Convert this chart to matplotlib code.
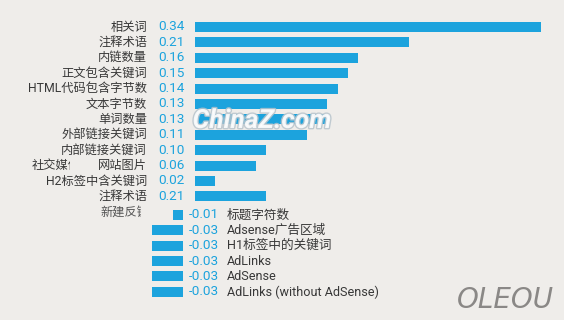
import numpy as np
import matplotlib
matplotlib.use("Agg")
import matplotlib.pyplot as plt
from matplotlib.patches import Rectangle
import matplotlib.patheffects as pe

plt.rcParams['font.family'] = ['Roboto', 'Noto Sans CJK SC', 'DejaVu Sans']

# 正相关
pos_labels = ['相关词', '注释术语', '内链数量', '正文包含关键词', 'HTML代码包含字节数',
              '文本字节数', '单词数量', '外部链接关键词', '内部链接关键词', '网站图片',
              'H2标签中含关键词', '注释术语']
pos_text = ['0.34', '0.21', '0.16', '0.15', '0.14', '0.13', '0.13', '0.11',
            '0.10', '0.06', '0.02', '0.21']
pos_bars = [0.34, 0.21, 0.16, 0.15, 0.14, 0.13, 0.13, 0.11, 0.07, 0.06, 0.02, 0.07]

# 负相关
neg_labels = ['标题字符数', 'Adsense广告区域', 'H1标签中的关键词', 'AdLinks', 'AdSense',
              'AdLinks (without AdSense)']
neg_text = ['-0.01', '-0.03', '-0.03', '-0.03', '-0.03', '-0.03']
neg_bars = [-0.01, -0.03, -0.03, -0.03, -0.03, -0.03]

blue = '#1ca3dd'
grey = '#383838'
bg = '#efedea'

fig = plt.figure(figsize=(5.64, 3.2), dpi=100, facecolor=bg)
ax = fig.add_axes([0, 0, 1, 1])
ax.set_facecolor(bg)
ppu = 1019.0
ax.set_xlim(-195 / ppu, 369 / ppu)
ax.set_ylim(19.03, -1.753)
ax.axis('off')

px = 0.72  # 1 px in points
y_pos = np.arange(len(pos_bars))
y_neg = np.arange(len(neg_bars)) + len(pos_bars) + 0.2
neg_zero = -12 / ppu

ax.barh(y_pos, pos_bars, height=0.65, color=blue)
ax.barh(y_neg, neg_bars, left=neg_zero, height=0.65, color=blue)

for y, lab, t in zip(y_pos, pos_labels, pos_text):
    ax.annotate(lab, (0, y), xytext=(-48 * px, 0), textcoords='offset points',
                ha='right', va='center', fontsize=8.8, color=grey)
    ax.annotate(t, (0, y), xytext=(-37 * px, 0), textcoords='offset points',
                ha='left', va='center', fontsize=9.7, color=blue)

for y, lab, t in zip(y_neg, neg_labels, neg_text):
    ax.annotate(t, (neg_zero, y), xytext=(6 * px, 0), textcoords='offset points',
                ha='left', va='center', fontsize=9.7, color=blue)
    ax.annotate(lab, (neg_zero, y), xytext=(44 * px, 0), textcoords='offset points',
                ha='left', va='center', fontsize=9.1, color=grey)

# 被截断的标签
t1 = fig.text(32 / 564, 1 - 165.5 / 320, '社交媒体', ha='left', va='center',
              fontsize=8.8, color=grey)
t1.set_clip_path(Rectangle((0, 0), 70 / 564, 1, transform=fig.transFigure))
t1.set_clip_on(True)
t2 = fig.text(100 / 564, 1 - 212 / 320, '新建反链', ha='left', va='center',
              fontsize=8.8, color='#555555')
t2.set_clip_path(Rectangle((0, 0), 141 / 564, 1, transform=fig.transFigure))
t2.set_clip_on(True)

# 水印
fig.text(262 / 564, 1 - 121 / 320, 'ChinaZ.com', ha='center', va='center',
         fontsize=19, fontweight='bold', fontstyle='italic', color='white', alpha=0.85,
         path_effects=[pe.withStroke(linewidth=2, foreground='#b8c4cc')])
fig.text(505 / 564, 1 - 300 / 320, 'OLEOU', ha='center', va='center',
         fontsize=20, fontstyle='italic', color='#8a8886', family='DejaVu Sans')

plt.savefig('out.png', dpi=100, facecolor=bg)
